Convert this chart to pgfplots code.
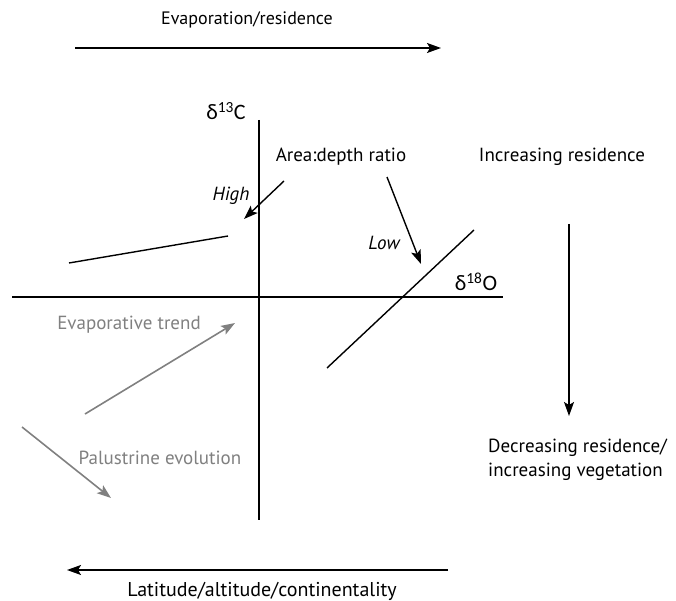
\documentclass[border=0pt]{standalone}
\usepackage{fontspec}
\setmainfont{PT Sans}
\newfontfamily\calib{Carlito}
\usepackage{pgfplots}
\pgfplotsset{compat=1.18}
\usetikzlibrary{arrows.meta}
\definecolor{grayline}{RGB}{128,128,128}
\tikzset{lbl/.style={font=\fontsize{19}{24}\selectfont, inner sep=0pt},
  arr/.style={-{Stealth[length=14pt,width=10pt,inset=3pt]}}}
\begin{document}
\begin{tikzpicture}
\begin{axis}[scale only axis, width=676pt, height=601pt,
  xmin=0, xmax=676, ymin=0, ymax=601, y dir=reverse,
  hide axis, clip=false]
% frame for bounding box
\addplot[draw=none, no markers] coordinates {(0,0) (676,601)};
% axes
\addplot[black, line width=1.4pt, no markers] coordinates {(259,120) (259,520)};
\addplot[black, line width=1.4pt, no markers] coordinates {(12,297) (503,297)};
% top and bottom arrows
\addplot[black, line width=1.4pt, no markers, arr] coordinates {(75,48) (441,48)};
\addplot[black, line width=1.4pt, no markers, arr] coordinates {(448,570) (67,570)};
% vertical arrow at right
\addplot[black, line width=1.4pt, no markers, arr] coordinates {(569,224) (569,416)};
% area:depth arrows
\addplot[black, line width=1.4pt, no markers, arr] coordinates {(284,181) (244,219)};
\addplot[black, line width=1.4pt, no markers, arr] coordinates {(387,177) (421,264)};
% lines
\addplot[black, line width=1.4pt, no markers] coordinates {(69,263) (228,236)};
\addplot[black, line width=1.4pt, no markers] coordinates {(327,368) (474,230)};
% gray arrows
\addplot[grayline, line width=1.6pt, no markers, arr] coordinates {(85,414) (235,323)};
\addplot[grayline, line width=1.6pt, no markers, arr] coordinates {(22,427) (111,498)};
% texts
\node[lbl, font=\fontsize{18}{24}\selectfont] at (axis cs:247,20) {Evaporation/residence};
\node[lbl, font=\fontsize{20}{24}\selectfont] at (axis cs:262,591) {Latitude/altitude/continentality};
\node[lbl] at (axis cs:341,157) {Area:depth ratio};
\node[lbl] at (axis cs:562,157) {Increasing residence};
\node[lbl] at (axis cs:231,196) {\itshape High};
\node[lbl] at (axis cs:384,243) {\itshape Low};
\node[inner sep=0pt] at (axis cs:226,111) {\calib\fontsize{22}{26}\selectfont δ\textsuperscript{13}C};
\node[inner sep=0pt] at (axis cs:476,282) {\calib\fontsize{22}{26}\selectfont δ\textsuperscript{18}O};
\node[lbl, anchor=west, align=left] at (axis cs:488,460) {Decreasing residence/\\increasing vegetation};
\node[lbl, text=grayline] at (axis cs:129,325) {Evaporative trend};
\node[lbl, text=grayline] at (axis cs:160,458) {Palustrine evolution};
\end{axis}
\end{tikzpicture}
\end{document}
